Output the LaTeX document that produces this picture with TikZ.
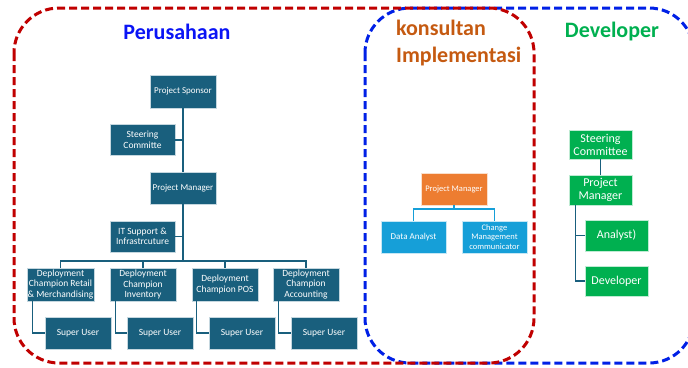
\documentclass[tikz,border=0pt]{standalone}
\usepackage{fontspec}
\setmainfont{Carlito}
\definecolor{teal1}{RGB}{25,95,125}
\definecolor{orng}{RGB}{237,125,49}
\definecolor{lblue}{RGB}{22,159,216}
\definecolor{grn}{RGB}{0,176,80}
\definecolor{tblue}{RGB}{10,20,245}
\definecolor{tbrown}{RGB}{197,90,17}
\definecolor{dred}{RGB}{192,0,0}
\definecolor{dblue}{RGB}{0,32,230}
\tikzset{
  box/.style={rectangle, draw=white!75!teal1, line width=0.4pt, text=white, align=center, inner sep=0pt, font=\fontsize{9.5}{10.5}\selectfont},
  tbox/.style={box, fill=teal1},
  obox/.style={box, fill=orng, draw=white!75!orng},
  lbox/.style={box, fill=lblue, draw=white!75!lblue},
  gbox/.style={box, fill=grn, draw=white!75!grn, font=\fontsize{12}{13}\selectfont},
  tline/.style={draw=teal1, line width=1.1pt},
  lline/.style={draw=lblue, line width=1.1pt},
  grp/.style={line width=3pt, dash pattern=on 8pt off 4pt, rounded corners=45pt},
  title/.style={font=\fontsize{22}{27}\selectfont\bfseries, inner sep=0pt}
}
\begin{document}
\begin{tikzpicture}[x=1pt,y=-1pt]
\useasboundingbox (0,0) rectangle (688,367);
% group frames
\draw[grp, dblue] (365,8) rectangle (694,363);
\draw[grp, dred] (14,8) rectangle (534,363);
% titles
\node[title, text=tblue] (tP) at (177,32) {Perusahaan};
\node[title, text=tbrown, align=left, anchor=west] (tK) at (396,43) {konsultan\\Implementasi};
\node[title, text=grn] (tD) at (612,32) {Developer};
% Perusahaan
\node[tbox, minimum width=66pt, minimum height=33pt, font=\fontsize{9}{10}\selectfont] (PS) at (183,91.5) {Project Sponsor};
\node[tbox, minimum width=65pt, minimum height=31pt] (SC) at (142.5,140) {Steering\\Committe};
\node[tbox, minimum width=66pt, minimum height=32pt, font=\fontsize{9}{10}\selectfont] (PM) at (183,188) {Project Manager};
\node[tbox, minimum width=65pt, minimum height=31pt] (IT) at (142.5,236.5) {IT Support \&\\Infrastrcuture};
\node[tbox, minimum width=67pt, minimum height=33pt] (D1) at (60.5,284.5) {Deployment\\Champion Retail\\\& Merchandising};
\node[tbox, minimum width=66pt, minimum height=33pt] (D2) at (143,284.5) {Deployment\\Champion\\Inventory};
\node[tbox, minimum width=66pt, minimum height=33pt] (D3) at (225,284.5) {Deployment\\Champion POS};
\node[tbox, minimum width=66pt, minimum height=33pt] (D4) at (306,284.5) {Deployment\\Champion\\Accounting};
\node[tbox, minimum width=66pt, minimum height=32pt] (S1) at (78,333) {Super User};
\node[tbox, minimum width=66pt, minimum height=32pt] (S2) at (160,333) {Super User};
\node[tbox, minimum width=66pt, minimum height=32pt] (S3) at (242,333) {Super User};
\node[tbox, minimum width=66pt, minimum height=32pt] (S4) at (324,333) {Super User};
\coordinate (bar) at (183,261);
\draw[tline] (PS.south) -- (PM.north);
\draw[tline] (SC.east) -- (SC.east -| PS.south);
\draw[tline] (PM.south) -- (bar);
\draw[tline] (IT.east) -- (IT.east -| PM.south);
\draw[tline] (D1.north) -- (D1.north |- bar) -| (D4.north);
\draw[tline] (D2.north) -- (D2.north |- bar);
\draw[tline] (D3.north) -- (D3.north |- bar);
\draw[tline] ([xshift=6pt]D1.south west) |- (S1.west);
\draw[tline] ([xshift=6pt]D2.south west) |- (S2.west);
\draw[tline] ([xshift=5pt]D3.south west) |- (S3.west);
\draw[tline] ([xshift=6pt]D4.south west) |- (S4.west);
% Konsultan
\node[obox, minimum width=66pt, minimum height=32pt, font=\fontsize{8.5}{9.5}\selectfont] (KPM) at (454,189) {Project Manager};
\node[lbox, minimum width=65pt, minimum height=32pt, font=\fontsize{9}{10}\selectfont] (DA) at (413.5,237) {Data Analyst};
\node[lbox, minimum width=65pt, minimum height=32pt, font=\fontsize{8.5}{9.5}\selectfont] (CM) at (494.5,237) {Change\\Management\\communicator};
\coordinate (kb) at (454,209);
\draw[lline] (KPM.south) -- (kb);
\draw[lline] (DA.north) |- (kb) -| (CM.north);
% Developer
\node[gbox, minimum width=63pt, minimum height=29pt] (GSC) at (600.5,144.5) {Steering\\Committee};
\node[gbox, minimum width=63pt, minimum height=30pt] (GPM) at (600.5,190) {Project\\Manager};
\node[gbox, minimum width=63pt, minimum height=31pt] (GA) at (616.5,235.5) {Analyst)};
\node[gbox, minimum width=63pt, minimum height=30pt] (GD) at (616.5,281) {Developer};
\draw[tline] (GSC.south) -- (GPM.north);
\draw[tline] ([xshift=7pt]GPM.south west) |- (GA.west);
\draw[tline] ([xshift=7pt]GPM.south west) |- (GD.west);
\end{tikzpicture}
\end{document}
